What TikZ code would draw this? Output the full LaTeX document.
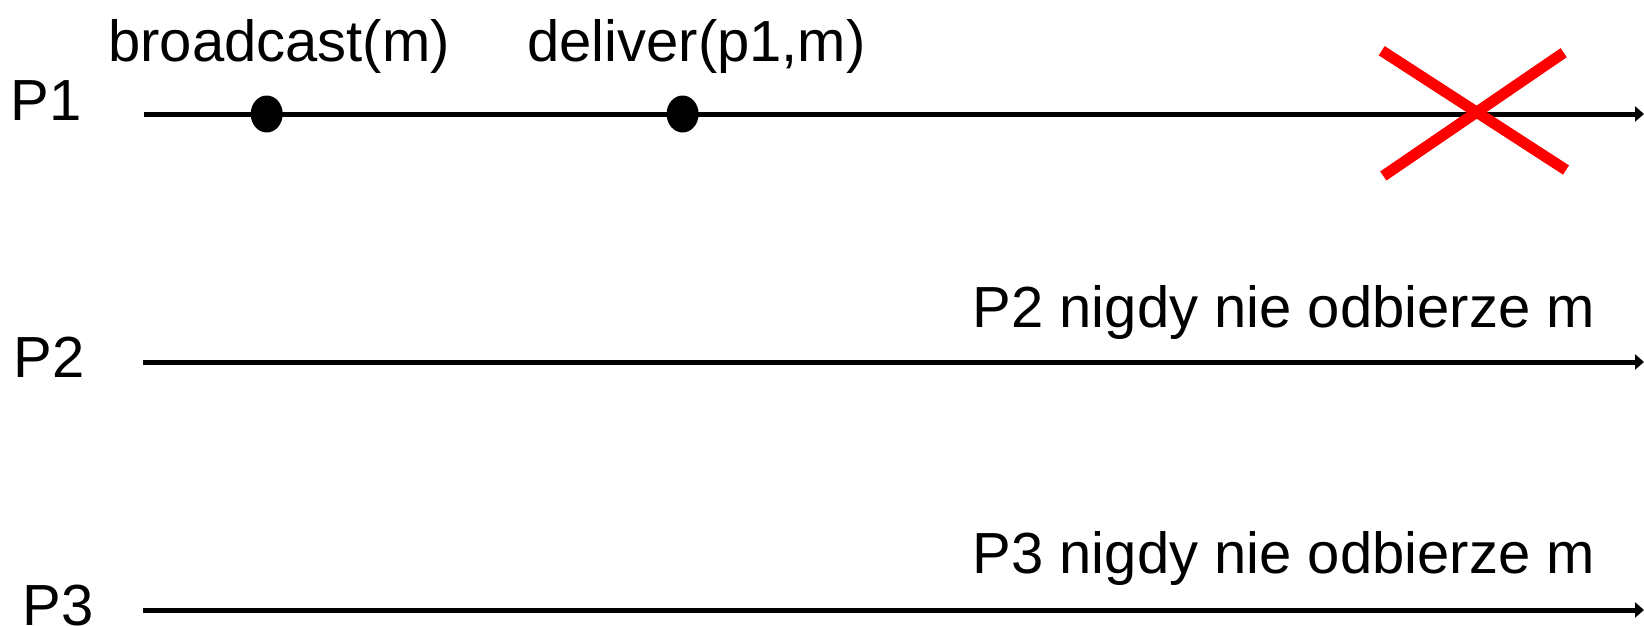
\documentclass[tikz,border=0pt]{standalone}
\usepackage{fontspec}
\setmainfont{Liberation Sans}
\usetikzlibrary{arrows.meta,shapes.geometric}

\tikzset{
  proclabel/.style={anchor=base west, inner sep=0pt, font=\fontsize{58pt}{70pt}\selectfont},
  timeline/.style={line width=5pt, -{Triangle[length=9pt,width=15pt]}},
  eventdot/.style={ellipse, fill=black, draw=none, inner sep=0pt,
                   minimum width=32pt, minimum height=37pt},
  crash/.style={draw=red, line width=11pt, line cap=butt},
}

\begin{document}
\begin{tikzpicture}[x=1pt, y=-1pt]
  \useasboundingbox (0,0) rectangle (1644,626);

  % process names
  \node[proclabel] (n1) at (10.5,120) {P1};
  \node[proclabel] (n2) at (13.5,377) {P2};
  \node[proclabel] (n3) at (22.5,625) {P3};

  % time lines
  \coordinate (s1) at (144,114);  \coordinate (e1) at (1644,114);
  \coordinate (s2) at (143,362);  \coordinate (e2) at (1644,362);
  \coordinate (s3) at (143,610);  \coordinate (e3) at (1644,610);
  \draw[timeline] (s1) -- (e1);
  \draw[timeline] (s2) -- (e2);
  \draw[timeline] (s3) -- (e3);

  % events on P1
  \node[eventdot] (bc) at (266.7,114) {};
  \node[eventdot] (dl) at (682.6,114) {};
  \node[proclabel] (bct) at (108,62) {broadcast(m)};
  \node[proclabel] (dlt) at (527,62) {deliver(p1,m)};

  % crash of P1
  \coordinate (c1a) at (1381.7,50.7);  \coordinate (c1b) at (1566,170);
  \coordinate (c2a) at (1563.7,52.7);  \coordinate (c2b) at (1383.3,176);
  \draw[crash] (c1a) -- (c1b);
  \draw[crash] (c2a) -- (c2b);

  % notes on P2 and P3
  \node[proclabel] (t2) at (972.5,327) {P2 nigdy nie odbierze m};
  \node[proclabel] (t3) at (972.5,573) {P3 nigdy nie odbierze m};
\end{tikzpicture}
\end{document}
